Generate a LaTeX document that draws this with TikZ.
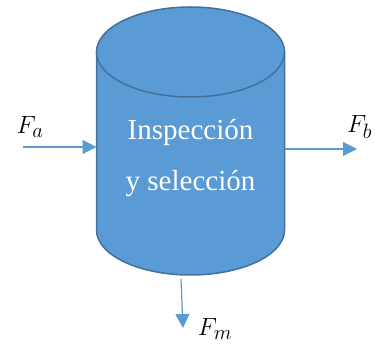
\documentclass[tikz,border=0pt]{standalone}
\usepackage{fontspec}
\setmainfont{Liberation Serif}
\usetikzlibrary{arrows.meta}
\definecolor{tankblue}{HTML}{5B9BD5}
\definecolor{tankline}{HTML}{41719C}
\begin{document}
\begin{tikzpicture}[x=1pt, y=-1pt,
  tank/.style = {fill=tankblue, draw=tankline, line width=1.5pt},
  flow/.style = {draw=tankblue, line width=1.2pt, -{Triangle[length=14pt, width=14pt]}},
  lbl/.style = {font=\fontsize{32}{36}\selectfont, inner sep=0pt},
  main/.style = {align=center, text=white, inner sep=0pt, font=\fontsize{29}{51}\selectfont}]
\useasboundingbox (0,0) rectangle (375,347);

% tank body
\path[tank] (96.5,52) -- (96.5,230) arc[start angle=180, end angle=0, x radius=94, y radius=45] -- (284.5,52) -- cycle;
\path[tank] (190.5,52) ellipse[x radius=94, y radius=45];

\node[main] (1) at (190.5,158) {Inspección\\y selección};

\coordinate (a) at (23,147);
\coordinate (bl) at (285,149);
\coordinate (b) at (357,149);
\coordinate (ml) at (181,279);
\coordinate (m) at (183,328);

\draw[flow] (a) -- (96.5,147);
\draw[flow] (bl) -- (b);
\draw[flow] (ml) -- (m);

\node[lbl] (Fa) at (30,127) {$F_a$};
\node[lbl, anchor=west] (Fb) at (347,127) {$F_b$};
\node[lbl] (Fm) at (215,329) {$F_m$};
\end{tikzpicture}
\end{document}
